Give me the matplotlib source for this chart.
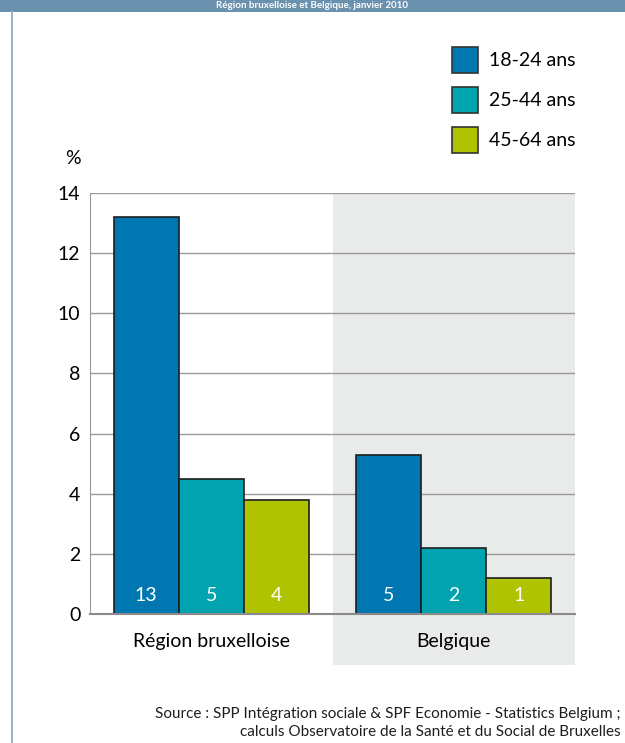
import matplotlib
matplotlib.use("Agg")
import matplotlib.pyplot as plt
from matplotlib.patches import Rectangle
import numpy as np

regions = ["Région bruxelloise", "Belgique"]
age_groups = ["18-24 ans", "25-44 ans", "45-64 ans"]
values = {
    "18-24 ans": [13.2, 5.3],
    "25-44 ans": [4.5, 2.2],
    "45-64 ans": [3.8, 1.2],
}
bar_labels = {
    "18-24 ans": ["13", "5"],
    "25-44 ans": ["5", "2"],
    "45-64 ans": ["4", "1"],
}
colors = ["#0077b0", "#00a3ae", "#afc300"]
yticks = [0, 2, 4, 6, 8, 10, 12, 14]
title = "Région bruxelloise et Belgique, janvier 2010"
source = ("Source : SPP Intégration sociale & SPF Economie - Statistics Belgium ;\n"
          "calculs Observatoire de la Santé et du Social de Bruxelles")

plt.rcParams["font.family"] = ["Lato", "DejaVu Sans"]

W, H = 625, 743
fig = plt.figure(figsize=(W / 100, H / 100), dpi=100)

def fx(px):
    return px / W

def fy(py):
    return 1 - py / H

# header bar and left border
fig.patches.append(Rectangle((0, fy(12)), 1, 1, transform=fig.transFigure,
                             facecolor="#6a91ae", edgecolor="none", zorder=0))
fig.add_artist(plt.Line2D([fx(11.5), fx(11.5)], [0, fy(12)], transform=fig.transFigure,
                          color="#9db3c6", lw=1.5))
fig.text(0.5, fy(6), title, color="white", fontsize=7, fontweight="bold",
         ha="center", va="center")

ax = fig.add_axes([fx(90), fy(614), fx(575) - fx(90), fy(193) - fy(614)])
ax.set_xlim(-0.5, 1.5)
ax.set_ylim(0, 14)

# shaded Belgique panel, extending below axis
ax.add_patch(Rectangle((0.5, -1.7), 1.0, 15.7, facecolor="#e9ebeb", edgecolor="none",
                       zorder=0, clip_on=False))

for y in yticks[1:]:
    ax.axhline(y, color="#9a9a9a", lw=1.0, zorder=1)

x = np.arange(len(regions))
width = 0.268
offsets = [-width, 0, width]
for i, grp in enumerate(age_groups):
    bars = ax.bar(x + offsets[i], values[grp], width, color=colors[i],
                  edgecolor="#1e1e1e", linewidth=1.2, zorder=3)
    for b, lab in zip(bars, bar_labels[grp]):
        ax.text(b.get_x() + b.get_width() / 2, 0.6, lab, ha="center", va="center",
                color="white", fontsize=14, zorder=4)

for s in ["top", "right"]:
    ax.spines[s].set_visible(False)
ax.spines["left"].set_color("#9a9a9a")
ax.spines["bottom"].set_color("#8a8a8a")
ax.spines["bottom"].set_linewidth(1.5)
ax.spines["bottom"].set_zorder(5)
ax.set_yticks(yticks)
ax.set_yticklabels([str(t) for t in yticks], fontsize=14)
ax.tick_params(axis="y", length=0, pad=7)
ax.set_xticks(x)
ax.set_xticklabels(regions, fontsize=14)
ax.tick_params(axis="x", length=0, pad=14)
ax.patch.set_visible(False)

fig.text(fx(73), fy(158), "%", fontsize=14, ha="center", va="center")

# legend drawn as squares + labels
for i, (grp, c) in enumerate(zip(age_groups, colors)):
    top = 47 + 40 * i
    fig.patches.append(Rectangle((fx(452), fy(top + 26)), fx(26), 26 / H,
                                 transform=fig.transFigure, facecolor=c,
                                 edgecolor="#333333", linewidth=1.2))
    fig.text(fx(489), fy(top + 13), grp, fontsize=14, ha="left", va="center")

fig.text(fx(621), fy(723), source, fontsize=11, ha="right", va="center",
         linespacing=1.3, color="#1e1e1e")

fig.savefig("out.png", dpi=100)
